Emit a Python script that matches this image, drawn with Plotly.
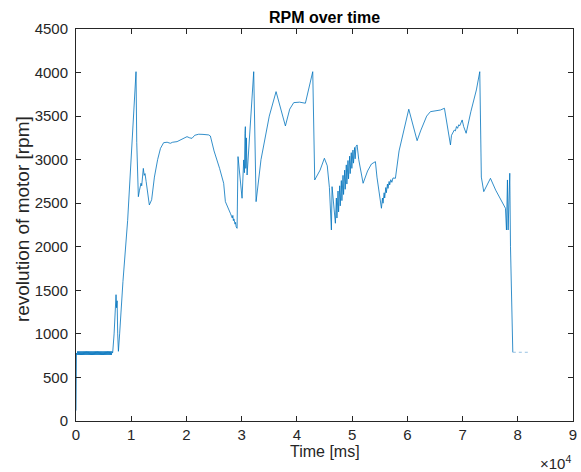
import plotly.graph_objects as go

# ---- data ----
idle_time_ms = [
    0, 80, 200, 300, 400, 500, 600, 700, 800, 900, 1000, 1100, 1200, 1300, 1400,
    1500, 1600, 1700, 1800, 1900, 2000, 2100, 2200, 2300, 2400, 2500, 2600, 2700,
    2800, 2900, 3000, 3100, 3200, 3300, 3400, 3500, 3600, 3700, 3800, 3900, 4000,
    4100, 4200, 4300, 4400, 4500, 4600, 4700, 4800, 4900, 5000, 5100, 5200, 5300,
    5400, 5500, 5600, 5700, 5800, 5900, 6000, 6100, 6200, 6300, 6400, 6500, 6600,
]
idle_rpm = [
    120, 780, 758, 800, 758, 800, 758, 800, 758, 800, 758, 800, 758, 800, 758,
    800, 758, 800, 758, 800, 758, 800, 758, 800, 758, 800, 758, 800,
    758, 800, 758, 800, 758, 800, 758, 800, 758, 800, 758, 800, 758,
    800, 758, 800, 758, 800, 758, 800, 758, 800, 758, 800, 758, 800,
    758, 800, 758, 800, 758, 800, 758, 800, 758, 800, 758, 800, 780,
]
drive_time_ms = [
    6650, 6900, 7100, 7250, 7350, 7450, 7550, 7680, 7900, 8500, 9350, 10000, 10500,
    10870, 11000, 11290, 11500, 11770, 11900, 12190, 12350, 12500, 12700, 13000,
    13280, 13700, 14200, 14780, 15300, 15870, 16500, 17080, 17500, 18300, 19000,
    20100, 20600, 21010, 21500, 22220, 23000, 24030, 24330, 25000, 26000, 26740,
    27050, 27500, 27950, 28300, 28400, 28500, 28600, 28800, 28900, 29000, 29170,
    29340, 29500, 29700, 30070, 30370, 30500, 30600, 30670, 30750, 30850, 30980,
    31500, 32180, 32610, 33500, 35000, 36230, 37920, 38700, 39430, 40500, 41540,
    42870, 43230, 44200, 44980, 45500, 45890, 46250, 46370, 46970, 47150, 47250,
    47450, 47550, 47750, 47850, 48050, 48150, 48350, 48450, 48650, 48750, 48950,
    49050, 49250, 49350, 49550, 49650, 49850, 49950, 50150, 50250, 50450, 50550,
    50700, 50900, 51200, 51990, 52800, 53500, 54220, 54500, 55310, 55500, 55600,
    55800, 55900, 56100, 56200, 56400, 56500, 56700, 56800, 57000, 57200, 57400,
    57840, 58500, 60260, 61000, 61770, 62400, 62970, 63500, 64180, 65000, 66000,
    66720, 67200, 67810, 68000, 68300, 68500, 68700, 68900, 69100, 69300, 69500,
    69700, 69930, 70200, 70650, 71500, 72500, 73120, 73240, 73400, 73840, 74500,
    75050, 76000, 77000, 77770, 77950, 78050, 78130, 78250, 78400, 78550, 78680,
    78900, 79100,
]
drive_rpm = [
    790, 1000, 1350, 1450, 1300, 1380, 1000, 800, 1000, 1600, 2300, 3000, 3600,
    4010, 3200, 2575, 2650, 2730, 2700, 2900, 2820, 2840, 2750, 2600,
    2480, 2540, 2800, 3000, 3130, 3195, 3200, 3188, 3200, 3207, 3230,
    3264, 3250, 3245, 3280, 3292, 3290, 3284, 3272, 3100, 2900, 2729,
    2518, 2440, 2385, 2330, 2360, 2300, 2320, 2260, 2280, 2230, 2212,
    3035, 2920, 2800, 2557, 2997, 2850, 3300, 3379, 2900, 3250, 2824,
    3400, 4010, 2518, 3000, 3500, 3781, 3387, 3580, 3655, 3660, 3648,
    4010, 2767, 2880, 3016, 2930, 2679, 2193, 2690, 2270, 2560, 2330,
    2640, 2400, 2700, 2470, 2760, 2530, 2820, 2600, 2880, 2660, 2940,
    2720, 2990, 2780, 3040, 2840, 3080, 2900, 3110, 2960, 3140, 3010,
    3150, 3169, 3000, 2729, 2870, 2950, 2977, 2800, 2442, 2560, 2500,
    2620, 2560, 2680, 2620, 2720, 2670, 2750, 2710, 2770, 2740, 2790,
    2786, 3100, 3579, 3400, 3218, 3330, 3418, 3500, 3551, 3560, 3570,
    3590, 3400, 3169, 3280, 3322, 3340, 3330, 3380, 3360, 3400, 3390,
    3430, 3456, 3380, 3303, 3550, 3800, 4010, 3000, 2800, 2633, 2720,
    2786, 2650, 2540, 2442, 2193, 2700, 2767, 2193, 2600, 2844, 2000,
    1389, 789,
]
tail_time_ms = [79100, 82000]
tail_rpm = [789, 789]

x_tick_vals = [0, 10000, 20000, 30000, 40000, 50000, 60000, 70000, 80000, 90000]
x_tick_text = ["0", "1", "2", "3", "4", "5", "6", "7", "8", "9"]
y_tick_vals = [0, 500, 1000, 1500, 2000, 2500, 3000, 3500, 4000, 4500]

time_ms = idle_time_ms + drive_time_ms
rpm = idle_rpm + drive_rpm

line_color = "#0072BD"
axis_color = "#262626"
font_family = "Liberation Sans, Arial, Helvetica, sans-serif"

fig = go.Figure()
fig.add_trace(go.Scatter(x=time_ms, y=rpm, mode="lines",
                         line=dict(color=line_color, width=0.8),
                         showlegend=False, hoverinfo="x+y"))
fig.add_trace(go.Scatter(x=tail_time_ms, y=tail_rpm, mode="lines",
                         line=dict(color="#7FB2DC", width=0.8, dash="dot"),
                         showlegend=False, hoverinfo="x+y"))

axis_common = dict(showline=True, linecolor=axis_color, linewidth=1,
                   mirror="ticks", ticks="inside", ticklen=5,
                   tickcolor=axis_color, showgrid=False, zeroline=False,
                   automargin=False,
                   tickfont=dict(size=15, color=axis_color, family=font_family))

fig.update_layout(
    width=581, height=472,
    margin=dict(l=76, r=8, t=29, b=51),
    paper_bgcolor="white", plot_bgcolor="white",
    font=dict(family=font_family, color=axis_color),
    title=dict(text="<b>RPM over time</b>", x=0.5, xref="paper", xanchor="center",
               y=1 - 17 / 472, yref="container", yanchor="middle",
               font=dict(size=16, color="black", family=font_family)),
    xaxis=dict(range=[0, 90000], tickvals=x_tick_vals, ticktext=x_tick_text,
               ticklabelstandoff=0, **axis_common),
    yaxis=dict(range=[0, 4500], tickvals=y_tick_vals,
               ticklabelstandoff=4, **axis_common),
    annotations=[
        dict(text="Time [ms]", xref="paper", yref="paper", x=0.5, y=0,
             xanchor="center", yanchor="middle", yshift=-30, showarrow=False,
             font=dict(size=16, color=axis_color, family=font_family)),
        dict(text="revolution of motor [rpm]", xref="paper", yref="paper",
             x=0, y=0.515, xanchor="center", yanchor="middle", xshift=-54,
             textangle=-90, showarrow=False,
             font=dict(size=19, color=axis_color, family=font_family)),
        dict(text="×10<sup>4</sup>", xref="paper", yref="paper",
             x=1.0, y=0, xanchor="right", yanchor="middle", yshift=-41,
             showarrow=False,
             font=dict(size=15, color=axis_color, family=font_family)),
    ],
)

fig.write_html("out.html", config={"displayModeBar": False},
               post_script="document.body.style.margin='0';")
